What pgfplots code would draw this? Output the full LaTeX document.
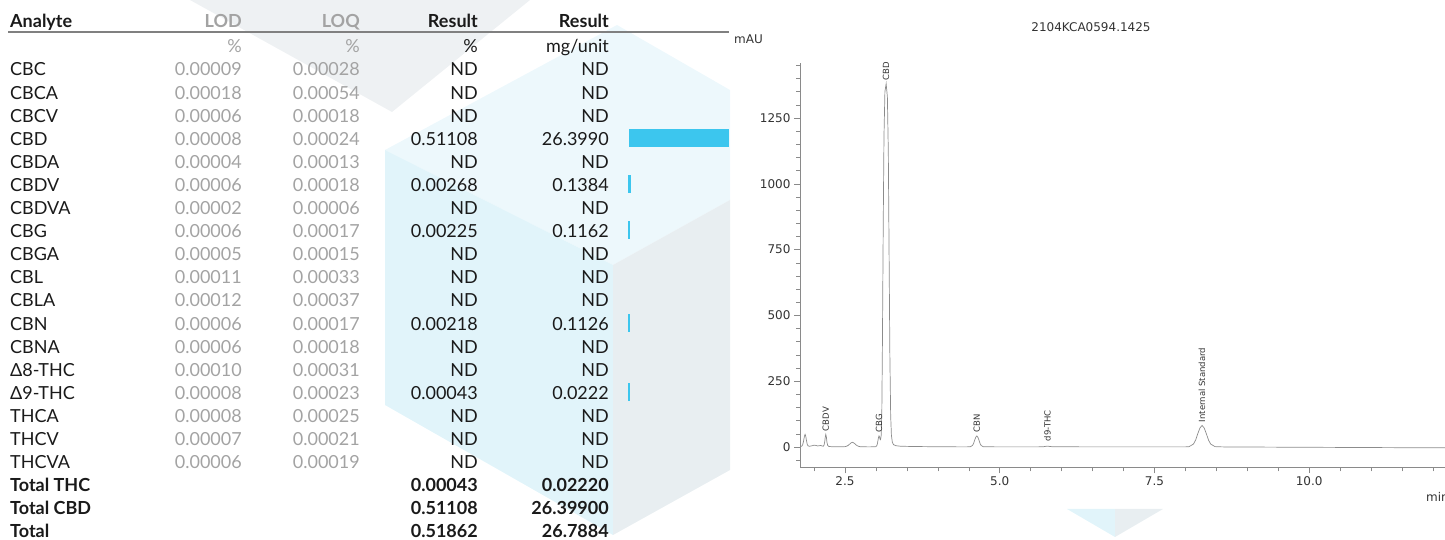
\documentclass[border=0pt]{standalone}
\usepackage{fontspec}
\setmainfont{Lato}
\newfontfamily\chromfont{DejaVu Sans}
\usepackage{pgfplots}
\pgfplotsset{compat=1.18}

\definecolor{barblue}{HTML}{3CC6EE}
\definecolor{lodgray}{HTML}{A3A3A3}
\definecolor{ink}{HTML}{1A1A1A}
\definecolor{wmgray}{HTML}{EEF1F3}
\definecolor{wmtop}{HTML}{EDF8FC}
\definecolor{wmleft}{HTML}{E1F4FA}
\definecolor{wmright}{HTML}{E8EEF1}
\definecolor{chromline}{HTML}{8C8C8C}
\definecolor{chromaxis}{HTML}{8A8A8A}
\definecolor{chromtext}{HTML}{333333}

\begin{document}
\begin{tikzpicture}[x=1pt,y=1pt]
\useasboundingbox (0,0) rectangle (1445,540);

% watermark shapes behind the table
\fill[wmgray] (190,540) -- (392,428) -- (530,540) -- cycle;
\fill[wmtop] (385,390) -- (617,515) -- (730,450) -- (730,340) -- (613,275) -- cycle;
\fill[wmleft] (385,390) -- (613,275) -- (613,5) -- (385,135) -- cycle;
\fill[wmright] (613,275) -- (730,340) -- (730,70) -- (613,5) -- cycle;
\fill[wmleft] (1067,31) -- (1115,31) -- (1115,3) -- cycle;
\fill[wmright] (1115,31) -- (1163,31) -- (1115,3) -- cycle;

% table
\begin{scope}[every node/.style={inner sep=0pt, text=ink, font=\fontsize{18}{20}\selectfont}]
\draw[draw=gray, line width=2pt] (8,507.7) -- (729,507.7);
\node[anchor=base west, font=\fontsize{18}{20}\selectfont\bfseries] at (10,512.7) {Analyte};
\node[anchor=base east, text=lodgray, font=\fontsize{18}{20}\selectfont\bfseries] at (242,512.7) {LOD};
\node[anchor=base east, text=lodgray, font=\fontsize{18}{20}\selectfont\bfseries] at (360,512.7) {LOQ};
\node[anchor=base east, font=\fontsize{18}{20}\selectfont\bfseries] at (478,512.7) {Result};
\node[anchor=base east, font=\fontsize{18}{20}\selectfont\bfseries] at (609,512.7) {Result};
\node[anchor=base east, text=lodgray] at (242,487.3) {\%};
\node[anchor=base east, text=lodgray] at (360,487.3) {\%};
\node[anchor=base east] at (478,487.3) {\%};
\node[anchor=base east] at (609,487.3) {mg/unit};
\foreach \nm/\lod/\loq/\rp/\rm [count=\i from 0] in {
  CBC/0.00009/0.00028/ND/ND,
  CBCA/0.00018/0.00054/ND/ND,
  CBCV/0.00006/0.00018/ND/ND,
  CBD/0.00008/0.00024/0.51108/26.3990,
  CBDA/0.00004/0.00013/ND/ND,
  CBDV/0.00006/0.00018/0.00268/0.1384,
  CBDVA/0.00002/0.00006/ND/ND,
  CBG/0.00006/0.00017/0.00225/0.1162,
  CBGA/0.00005/0.00015/ND/ND,
  CBL/0.00011/0.00033/ND/ND,
  CBLA/0.00012/0.00037/ND/ND,
  CBN/0.00006/0.00017/0.00218/0.1126,
  CBNA/0.00006/0.00018/ND/ND,
  Δ8-THC/0.00010/0.00031/ND/ND,
  Δ9-THC/0.00008/0.00023/0.00043/0.0222,
  THCA/0.00008/0.00025/ND/ND,
  THCV/0.00007/0.00021/ND/ND,
  THCVA/0.00006/0.00019/ND/ND}{
  \pgfmathsetmacro\yy{464-23.1*\i}
  \node[anchor=base west] at (10,\yy) {\nm};
  \node[anchor=base east, text=lodgray] at (242,\yy) {\lod};
  \node[anchor=base east, text=lodgray] at (360,\yy) {\loq};
  \node[anchor=base east] at (478,\yy) {\rp};
  \node[anchor=base east] at (609,\yy) {\rm};
}
\foreach \nm/\rp/\rm [count=\i from 18] in {
  Total THC/0.00043/0.02220,
  Total CBD/0.51108/26.39900,
  Total/0.51862/26.7884}{
  \pgfmathsetmacro\yy{464-23.1*\i}
  \node[anchor=base west, font=\fontsize{18}{20}\selectfont\bfseries] at (10,\yy) {\nm};
  \node[anchor=base east, font=\fontsize{18}{20}\selectfont\bfseries] at (478,\yy) {\rp};
  \node[anchor=base east, font=\fontsize{18}{20}\selectfont\bfseries] at (609,\yy) {\rm};
}
\end{scope}

% mg/unit bars beside the table
\begin{axis}[at={(629pt,67.25pt)}, anchor=south west, scale only axis,
  width=100pt, height=415.8pt,
  xmin=0, xmax=26.399, ymin=-0.5, ymax=17.5, y dir=reverse,
  hide axis, xbar, bar shift=0pt, clip=false]
\addplot[fill=barblue, draw=none, bar width=18pt]
  coordinates {(26.399,3)};
\addplot[fill=barblue, draw=barblue, line width=2pt, bar width=16pt]
  coordinates {(0.1384,5) (0.1162,7) (0.1126,11) (0.0222,14)};
\end{axis}

% chromatogram
\node[anchor=center, inner sep=0pt, text=chromtext, font=\chromfont\fontsize{12}{14}\selectfont] at (1091,513) {2104KCA0594.1425};
\node[anchor=west, inner sep=0pt, text=chromtext, font=\chromfont\fontsize{12}{14}\selectfont] at (734,501) {mAU};
\node[anchor=west, inner sep=0pt, text=chromtext, font=\chromfont\fontsize{12}{14}\selectfont] at (1426,43) {min};

\begin{axis}[at={(800pt,72.7pt)}, anchor=south west, scale only axis,
  width=670pt, height=404.6pt,
  xmin=1.773, xmax=12.6, ymin=-77, ymax=1460,
  axis lines=left,
  axis line style={-, draw=chromaxis, line width=0.6pt},
  tick style={draw=chromaxis, line width=0.5pt},
  tick align=outside, major tick length=6pt, minor tick length=4pt,
  xtick={2.5,5,7.5,10}, xticklabels={2.5,5.0,7.5,10.0},
  ytick={0,250,500,750,1000,1250}, yticklabels={0,250,500,750,1000,1250},
  minor xtick={2,2.5,...,12.5},
  minor ytick={-50,0,...,1450},
  tick label style={font=\chromfont\fontsize{12}{14}\selectfont, text=chromtext},
  clip=false]
\addplot[chromline, line width=0.7pt] coordinates {
  (1.78,2) (1.80,3) (1.815,8) (1.83,22) (1.845,42) (1.855,48) (1.865,42)
  (1.878,24) (1.89,10) (1.905,4) (1.93,3) (1.97,5) (2.00,7) (2.03,6)
  (2.06,4) (2.085,5) (2.105,6) (2.13,4) (2.15,3) (2.162,8) (2.172,19)
  (2.181,38) (2.19,48) (2.199,38) (2.208,19) (2.22,6) (2.24,2) (2.30,1)
  (2.45,1) (2.50,1.5) (2.525,3) (2.55,6) (2.575,11) (2.60,16) (2.62,18)
  (2.64,16) (2.665,11) (2.69,6) (2.715,3) (2.75,1) (2.90,0.5) (3.00,1.5)
  (3.015,6) (3.025,14) (3.035,28) (3.043,38) (3.05,42) (3.058,38)
  (3.066,30) (3.075,28) (3.085,45) (3.095,130) (3.105,400) (3.118,850)
  (3.13,1180) (3.145,1350) (3.165,1380) (3.185,1330) (3.20,1120)
  (3.212,750) (3.225,350) (3.238,120) (3.25,45) (3.265,18) (3.285,9)
  (3.32,5) (3.40,3) (3.60,2) (4.00,1) (4.45,0.5) (4.525,1) (4.56,6)
  (4.577,13) (4.595,26) (4.613,37) (4.63,42) (4.648,37) (4.665,26)
  (4.683,13) (4.70,6) (4.735,1) (5.00,0.5) (5.60,0.5) (5.70,1) (5.74,2.5)
  (5.77,3.5) (5.80,2.5) (5.85,1) (6.50,0.5) (7.50,0.5) (8.00,0.5)
  (8.06,1.5) (8.13,11) (8.165,26) (8.20,50) (8.235,72) (8.27,82)
  (8.305,72) (8.34,50) (8.375,26) (8.41,11) (8.48,1.5) (8.60,0.5)
  (9.00,0) (10.0,-1) (11.0,-2) (12.0,-3) (12.6,-3)};
\begin{scope}[every node/.style={rotate=90, anchor=west, inner sep=0pt, text=chromtext, font=\chromfont\fontsize{8.5}{9}\selectfont}]
\node at (axis cs:2.19,60) {CBDV};
\node at (axis cs:3.05,55) {CBG};
\node at (axis cs:3.165,1392) {CBD};
\node at (axis cs:4.63,55) {CBN};
\node at (axis cs:5.77,22) {d9-THC};
\node at (axis cs:8.27,94) {Internal Standard};
\end{scope}
\end{axis}
\end{tikzpicture}
\end{document}
